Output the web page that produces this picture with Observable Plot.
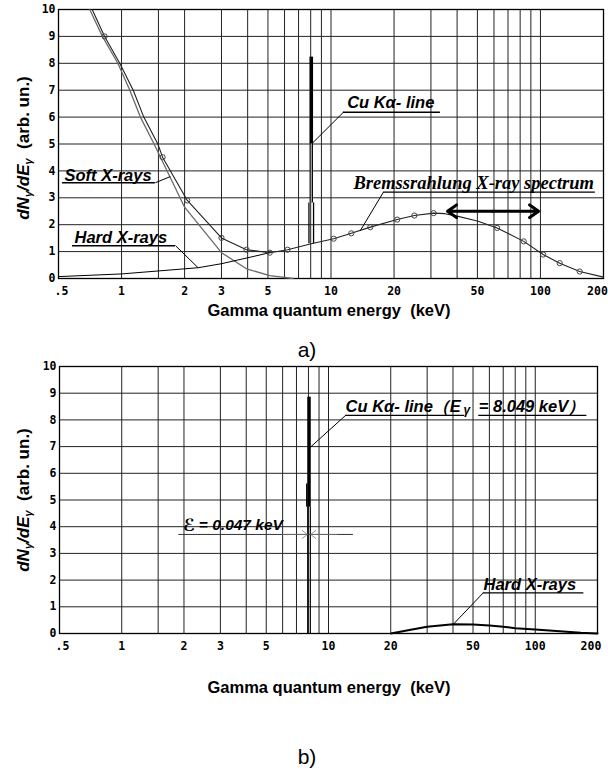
<!DOCTYPE html>
<html><head><meta charset="utf-8">
<script src="https://cdn.jsdelivr.net/npm/d3@7"></script>
<script src="https://cdn.jsdelivr.net/npm/@observablehq/plot@0.6"></script>
<style>
body{margin:0;background:#fff;}
#page{position:relative;width:608px;height:769px;overflow:hidden;font-family:"Liberation Sans",Arial,sans-serif;color:#000;}
.xtitle{position:absolute;font-weight:bold;font-size:16.5px;line-height:1;white-space:pre;transform:translate(-50%,-50%);}
.ytitle{position:absolute;font-weight:bold;font-size:17px;line-height:1;white-space:pre;transform:translate(-50%,-50%) rotate(-90deg);}
.ytitle sub{font-size:11px;vertical-align:-3px;}
.tag{position:absolute;font-size:21px;line-height:1;transform:translate(-50%,-50%);}
</style></head><body><div id="page"></div>
<script>
// ---------- shared axis data ----------
const xTicks = [0.5, 1, 2, 3, 5, 10, 20, 50, 100, 200];
const yTicks = [0, 1, 2, 3, 4, 5, 6, 7, 8, 9, 10];
const xGrid = [1, 1.5, 2, 3, 4, 5, 6, 7, 8, 9, 10, 20, 30, 40, 50, 60, 70, 80, 90, 100];
const yGrid = [1, 2, 3, 4, 5, 6, 7, 8, 9, 10];
const xTitle = "Gamma quantum energy  (keV)";
const panelTags = ["a)", "b)"];

// ---------- panel a: spectra ----------
const totalE = [0.724, 0.83, 0.98, 1.137, 1.277, 1.49, 1.57, 2.06, 3.0, 3.95, 5.1, 6.2, 8.05, 10.3, 12.5, 15.4, 20.7, 25, 30.9, 35, 40, 50, 62.1, 83.2, 103, 123.6, 153.9, 200];
const totalN = [10, 9.0, 8.0, 7.0, 6.0, 5.0, 4.51, 2.9, 1.51, 1.07, 0.96, 1.07, 1.29, 1.48, 1.68, 1.91, 2.19, 2.34, 2.43, 2.41, 2.32, 2.14, 1.88, 1.38, 0.89, 0.57, 0.26, 0.05];
const totalMarker = [0, 1, 0, 0, 0, 0, 1, 1, 1, 1, 1, 1, 0, 1, 1, 1, 1, 1, 1, 0, 0, 0, 1, 1, 1, 1, 1, 0];
const softE = [0.705, 0.81, 0.96, 1.095, 1.23, 1.43, 2.0, 3.0, 3.95, 5.1, 6.6];
const softN = [10, 9, 8, 7, 6, 5, 2.65, 0.96, 0.36, 0.11, 0];
const hardE = [0.5, 1, 2.32, 3, 4, 5.1];
const hardN = [0.07, 0.17, 0.4, 0.55, 0.77, 0.96];
const cuLineE = 8.049;
const cuA = {base: 1.29, hollowTop: 2.81, thinTop: 5.01, top: 8.23};
const bremsArrow = {mid: 59, left: 36, right: 98, n: 2.5};

const labelsA = [
  {text: "Soft X-rays", x: 0.534, y: 3.83, ux1: 0.522, ux2: 1.45, uy: 3.56, lx: 1.45, ly: 3.56, tx: 1.71, ty: 3.79},
  {text: "Hard X-rays", x: 0.596, y: 1.51, ux1: 0.583, ux2: 1.81, uy: 1.22, lx: 1.81, ly: 1.22, tx: 2.32, ty: 0.4},
  {text: "Cu K\u03b1- line", x: 11.94, y: 6.55, ux1: 11.46, ux2: 33.3, uy: 6.18, lx: 11.46, ly: 6.18, tx: 8.1, ty: 5.01}
];
const bremsLabel = [{text: "Bremssrahlung X-ray spectrum", x: 12.8, y: 3.56, ux1: 17.8, ux2: 182.9, uy: 3.21, lx: 17.8, ly: 3.21, tx: 13.8, ty: 1.78}];

// ---------- panel b ----------
const hardBE = [20, 25, 30, 40, 50, 60, 70, 80, 100, 166, 200];
const hardBN = [0, 0.14, 0.25, 0.35, 0.34, 0.3, 0.25, 0.2, 0.15, 0.03, 0];
const cuB = {thickBottom: 4.73, top: 8.85, sideTop: 5.6};
const cuBLabel = [
  {text: "Cu K\u03b1- line\uff08E", x: 12.1, y: 8.51, ux1: 12.1, ux2: 45.6},
  {text: "= 8.049 keV\uff09", x: 53.3, y: 8.51, ux1: 53.3, ux2: 177.7}
];
const cuBSub = [{text: "\u03b3", x: 45.0, y: 8.35}];
const cuBLeader = [{lx: 12.1, ly: 8.17, tx: 8.1, ty: 6.95}];
const cuBUnderY = 8.17;
const epsSymbol = [{text: "\u2130", x: 1.98, y: 4.06}];
const epsLabel = [{text: "= 0.047 keV", x: 2.36, y: 4.06}];
const epsLine = {x1: 1.89, x2: 13.2, y: 3.71};
const epsArrows = [{x1: 6.0, x2: 7.9, y: 3.71}, {x1: 11, x2: 8.2, y: 3.71}];
const hardBLabel = [{text: "Hard X-rays", x: 56.2, y: 1.81, ux1: 56, ux2: 171.8, uy: 1.52, lx: 56, ly: 1.52, tx: 40.2, ty: 0.35}];

// ---------- helpers ----------
const sansBI = {fontFamily: "Liberation Sans, Arial, sans-serif", fontWeight: "bold", fontStyle: "italic"};
const mono = {fontFamily: "DejaVu Sans Mono, monospace", fontWeight: "bold", fontSize: 11.5, fill: "#000"};
const fmt = d => d === 0.5 ? ".5" : String(d);
const gridColor = "#222";

function frameMarks(dxFirst, dxLast) {
  const mid = xTicks.slice(1, -1);
  return [
    Plot.ruleX(xGrid, {stroke: gridColor, strokeWidth: 1}),
    Plot.ruleY(yGrid, {stroke: gridColor, strokeWidth: 1}),
    Plot.frame({stroke: "#000", strokeWidth: 1.3}),
    Plot.text(mid, {x: d => d, text: fmt, frameAnchor: "bottom", lineAnchor: "top", dy: 8, ...mono}),
    Plot.text([xTicks[0]], {x: d => d, text: fmt, frameAnchor: "bottom", lineAnchor: "top", dy: 8, dx: dxFirst, ...mono}),
    Plot.text([xTicks[xTicks.length - 1]], {x: d => d, text: fmt, frameAnchor: "bottom", lineAnchor: "top", dy: 8, dx: dxLast, ...mono}),
    Plot.text(yTicks, {y: d => d, text: d => String(d), frameAnchor: "left", textAnchor: "end", dx: -3, ...mono})
  ];
}
function labelMarks(data, font, size) {
  return [
    Plot.ruleY(data, {y: "uy", x1: "ux1", x2: "ux2", stroke: "#000", strokeWidth: 1.4}),
    Plot.link(data, {x1: "lx", y1: "ly", x2: "tx", y2: "ty", stroke: "#000", strokeWidth: 1}),
    Plot.text(data, {x: "x", y: "y", text: "text", textAnchor: "start", fontSize: size, ...font})
  ];
}

const page = document.getElementById("page");
function place(el, top) { el.style.position = "absolute"; el.style.left = "0px"; el.style.top = top + "px"; page.appendChild(el); }
function html(cls, content, x, y) { const d = document.createElement("div"); d.className = cls; d.innerHTML = content; d.style.left = x + "px"; d.style.top = y + "px"; page.appendChild(d); }

const total = totalE.map((e, i) => ({e, n: totalN[i], m: totalMarker[i]}));
const soft = softE.map((e, i) => ({e, n: softN[i]}));
const hard = hardE.map((e, i) => ({e, n: hardN[i]}));
const hardB = hardBE.map((e, i) => ({e, n: hardBN[i]}));

// ---------- panel a plot ----------
const plotA = Plot.plot({
  width: 608, height: 300, marginLeft: 58, marginRight: 5, marginTop: 9, marginBottom: 22,
  x: {type: "log", domain: [0.5, 200], axis: null},
  y: {domain: [0, 10], axis: null},
  style: {background: "#fff", overflow: "visible"},
  marks: [
    ...frameMarks(3, -6),
    Plot.line(soft, {x: "e", y: "n", stroke: "#6a6a6a", strokeWidth: 1.3}),
    Plot.line(hard, {x: "e", y: "n", stroke: "#000", strokeWidth: 1}),
    Plot.line(total, {x: "e", y: "n", stroke: "#222", strokeWidth: 1.1}),
    Plot.dot(total.filter(d => d.m), {x: "e", y: "n", r: 2.6, stroke: "#444", fill: "none", strokeWidth: 1}),
    // Cu K-alpha line: hollow base, grey-cored middle, solid top
    Plot.ruleX([cuLineE], {y1: cuA.base, y2: cuA.hollowTop, stroke: "#000", strokeWidth: 1.3, dx: -2.3}),
    Plot.ruleX([cuLineE], {y1: cuA.base, y2: cuA.hollowTop, stroke: "#000", strokeWidth: 1.3, dx: 2.3}),
    Plot.ruleX([cuLineE], {y1: cuA.hollowTop, y2: cuA.thinTop, stroke: "#000", strokeWidth: 3.4}),
    Plot.ruleX([cuLineE], {y1: cuA.hollowTop, y2: cuA.thinTop, stroke: "#aaa", strokeWidth: 1.3}),
    Plot.ruleX([cuLineE], {y1: cuA.thinTop, y2: cuA.top, stroke: "#000", strokeWidth: 3.6}),
    // double-headed arrow
    Plot.arrow([bremsArrow], {x1: "mid", x2: "left", y1: "n", y2: "n", stroke: "#000", strokeWidth: 3, headLength: 5.5, headAngle: 70}),
    Plot.arrow([bremsArrow], {x1: "mid", x2: "right", y1: "n", y2: "n", stroke: "#000", strokeWidth: 3, headLength: 5.5, headAngle: 70}),
    ...labelMarks(labelsA, sansBI, 16.5),
    ...labelMarks(bremsLabel, {fontFamily: "Liberation Serif, Times New Roman, serif", fontWeight: "bold", fontStyle: "italic"}, 18.5)
  ]
});
place(plotA, 0);

// ---------- panel b plot ----------
const plotB = Plot.plot({
  width: 608, height: 299, marginLeft: 59, marginRight: 11, marginTop: 9, marginBottom: 23,
  x: {type: "log", domain: [0.5, 200], axis: null},
  y: {domain: [0, 10], axis: null},
  style: {background: "#fff", overflow: "visible"},
  marks: [
    ...frameMarks(3, -6.5),
    Plot.line(hardB, {x: "e", y: "n", stroke: "#000", strokeWidth: 2}),
    // Cu K-alpha line
    Plot.ruleX([cuLineE], {y1: 0, y2: cuB.thickBottom, stroke: "#000", strokeWidth: 1.2, dx: -1.3}),
    Plot.ruleX([cuLineE], {y1: 0, y2: cuB.thickBottom, stroke: "#000", strokeWidth: 1.2, dx: 1.3}),
    Plot.ruleX([cuLineE], {y1: cuB.thickBottom, y2: cuB.sideTop, stroke: "#000", strokeWidth: 1.5, dx: -2.2}),
    Plot.ruleX([cuLineE], {y1: cuB.thickBottom, y2: cuB.top, stroke: "#000", strokeWidth: 3.5}),
    // epsilon width marker
    Plot.ruleY([epsLine], {y: "y", x1: "x1", x2: "x2", stroke: "#333", strokeWidth: 1}),
    Plot.arrow(epsArrows, {x1: "x1", x2: "x2", y1: "y", y2: "y", stroke: "#777", strokeWidth: 0.8, headLength: 12, headAngle: 76}),
    Plot.text(epsSymbol, {x: "x", y: "y", text: "text", textAnchor: "start", fontSize: 17, fontFamily: "DejaVu Sans, sans-serif", fontWeight: "bold", fontStyle: "italic"}),
    Plot.text(epsLabel, {x: "x", y: "y", text: "text", textAnchor: "start", fontSize: 15.5, ...sansBI}),
    // Cu label
    Plot.ruleY(cuBLabel, {y: cuBUnderY, x1: "ux1", x2: "ux2", stroke: "#000", strokeWidth: 1.4}),
    Plot.link(cuBLeader, {x1: "lx", y1: "ly", x2: "tx", y2: "ty", stroke: "#000", strokeWidth: 1}),
    Plot.text(cuBLabel, {x: "x", y: "y", text: "text", textAnchor: "start", fontSize: 16.5, ...sansBI}),
    Plot.text(cuBSub, {x: "x", y: "y", text: "text", textAnchor: "start", fontSize: 12, ...sansBI}),
    ...labelMarks(hardBLabel, sansBI, 16.5)
  ]
});
place(plotB, 357);

// ---------- titles ----------
const yTitleHTML = "<i>dN</i><sub><i>\u03b3</i></sub><i>/dE</i><sub><i>\u03b3</i></sub>  (arb. un.)";
html("ytitle", yTitleHTML, 24, 148);
html("ytitle", yTitleHTML, 24, 500);
html("xtitle", xTitle, 329, 310);
html("xtitle", xTitle, 329, 687);
html("tag", panelTags[0], 307, 349);
html("tag", panelTags[1], 307, 756);
</script></body></html>
